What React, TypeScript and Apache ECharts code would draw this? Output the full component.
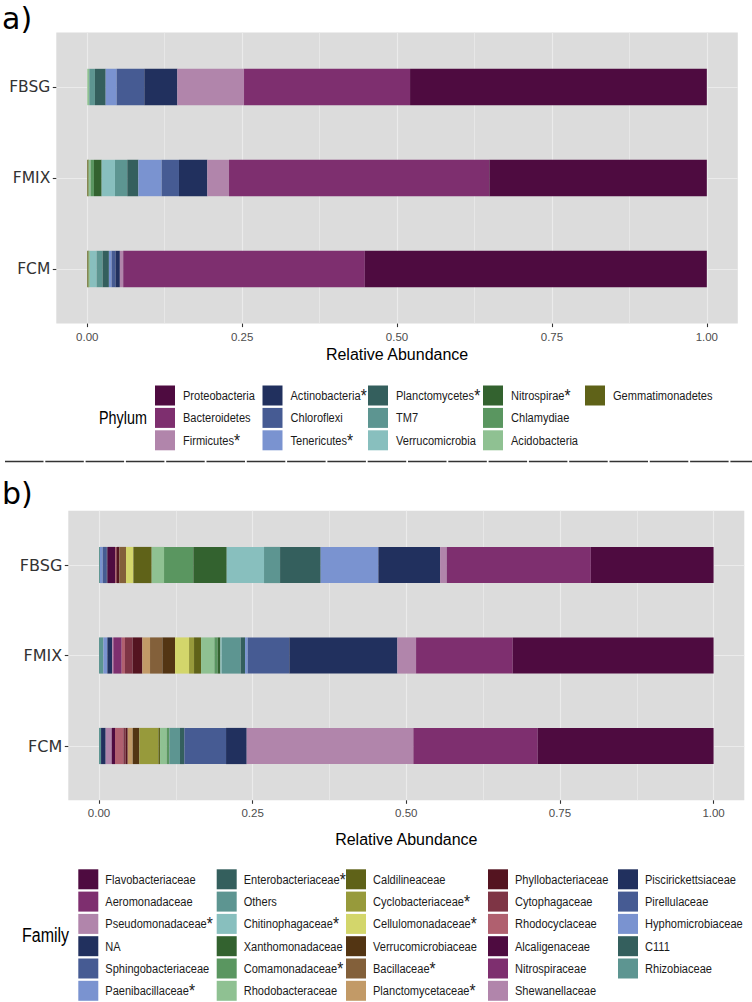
import React, { useEffect, useRef } from 'react';
import * as echarts from 'echarts';

// ---------------- data ----------------
const samples = ['FBSG', 'FMIX', 'FCM'];
const xTickValues = [0, 0.25, 0.5, 0.75, 1];
const xTickLabels = ['0.00', '0.25', '0.50', '0.75', '1.00'];
const xMinorValues = [0.125, 0.375, 0.625, 0.875];
const xAxisTitle = 'Relative Abundance';

const phyla = [
  'Proteobacteria', 'Bacteroidetes', 'Firmicutes', 'Actinobacteria', 'Chloroflexi',
  'Tenericutes', 'Planctomycetes', 'TM7', 'Verrucomicrobia', 'Nitrospirae',
  'Chlamydiae', 'Acidobacteria', 'Gemmatimonadetes',
];
const phylumColors = [
  '#4E0B40', '#7E2F6F', '#B185AB', '#21305E', '#465B93',
  '#7A93D0', '#345F5D', '#5D9591', '#88BFBE', '#33622F',
  '#5A9660', '#8FC192', '#5F6218',
];
const phylumStarred = ['Firmicutes', 'Actinobacteria', 'Tenericutes', 'Planctomycetes', 'Nitrospirae'];
// values in the order of `phyla`
const phylumFBSG = [0.479, 0.268, 0.1076, 0.0533, 0.0447, 0.0177, 0.0173, 0.0091, 0, 0, 0, 0.0033, 0];
const phylumFMIX = [0.351, 0.4202, 0.035, 0.0458, 0.028, 0.0376, 0.0178, 0.0199, 0.0215, 0.0124, 0.0054, 0.0032, 0.0022];
const phylumFCM = [0.552, 0.39, 0.0054, 0.007, 0.0064, 0.0043, 0.0102, 0.0097, 0.0107, 0, 0, 0.0021, 0.0022];

const families = [
  'Flavobacteriaceae', 'Aeromonadaceae', 'Pseudomonadaceae', 'NA', 'Sphingobacteriaceae', 'Paenibacillaceae',
  'Enterobacteriaceae', 'Others', 'Chitinophagaceae', 'Xanthomonadaceae', 'Comamonadaceae', 'Rhodobacteraceae',
  'Caldilineaceae', 'Cyclobacteriaceae', 'Cellulomonadaceae', 'Verrucomicrobiaceae', 'Bacillaceae', 'Planctomycetaceae',
  'Phyllobacteriaceae', 'Cytophagaceae', 'Rhodocyclaceae', 'Alcaligenaceae', 'Nitrospiraceae', 'Shewanellaceae',
  'Piscirickettsiaceae', 'Pirellulaceae', 'Hyphomicrobiaceae', 'C111', 'Rhizobiaceae',
];
const familyColors = [
  '#4E0B40', '#7E2F6F', '#B185AB', '#21305E', '#465B93', '#7A93D0',
  '#345F5D', '#5D9591', '#88BFBE', '#33622F', '#5A9660', '#8FC192',
  '#5F6218', '#979A3B', '#D3D66B', '#533513', '#83603A', '#C29A67',
  '#541420', '#7E3545', '#B0606F', '#4E0B40', '#7E2F6F', '#B185AB',
  '#21305E', '#465B93', '#7A93D0', '#345F5D', '#5D9591',
];
const familyStarred = [
  'Pseudomonadaceae', 'Paenibacillaceae', 'Enterobacteriaceae', 'Chitinophagaceae', 'Comamonadaceae',
  'Cyclobacteriaceae', 'Cellulomonadaceae', 'Bacillaceae', 'Planctomycetaceae',
];
// values in the order of `families`
const familyFBSG = [0.1998, 0.2344, 0.0108, 0.1004, 0, 0.0939, 0.0661, 0.0261, 0.0607, 0.0543, 0.0477, 0.0201, 0.0298, 0, 0.012, 0, 0.0108, 0, 0.0043, 0.0014, 0.0014, 0.0124, 0, 0, 0.0011, 0.0065, 0.0044, 0, 0.0016];
const familyFMIX = [0.3268, 0.1573, 0.0304, 0.1758, 0.0678, 0.0043, 0.0071, 0.0309, 0.0021, 0.0044, 0.0054, 0.0217, 0.0114, 0.0081, 0.0228, 0.0206, 0.0201, 0.0125, 0.0157, 0.0125, 0.0054, 0, 0.0136, 0.0021, 0.0076, 0, 0.0065, 0, 0.0071];
const familyFCM = [0.2861, 0.2024, 0.2712, 0.0336, 0.0678, 0, 0.0071, 0.0173, 0, 0, 0.0044, 0.0108, 0.0027, 0.031, 0, 0.0108, 0, 0.0081, 0.0033, 0.0038, 0.0136, 0.0054, 0, 0.0098, 0.0075, 0, 0, 0, 0.0033];

// ---------------- style / layout ----------------
const SANS = "'Liberation Sans', Arial, sans-serif";
const DEJAVU = "'DejaVu Sans', sans-serif";
const PANEL_BG = '#DCDCDC';
const GRID_LINE = '#EBEBEB';
const NARROW_SCALE = 0.82; // emulate a narrow sans face

// ggplot-like expansion: x from -0.05 to 1.05, y from 0.4 to 3.6
const X_LO = -0.05, X_HI = 1.05, X_STEP = 0.025;
const Y_LO = 0.4, Y_HI = 3.6, Y_STEP = 0.2;
const X_SLOTS = Math.round((X_HI - X_LO) / X_STEP) + 1;
const Y_SLOTS = Math.round((Y_HI - Y_LO) / Y_STEP) + 1;
const xSlot = (v: number) => Math.round((v - X_LO) / X_STEP);
const ySlot = (i: number) => Math.round((i + 1 - Y_LO) / Y_STEP);

const majorSlots = new Set(xTickValues.map(xSlot));
const minorSlots = new Set(xMinorValues.map(xSlot));
const sampleSlots = new Map(samples.map((s, i) => [ySlot(i), s]));
const xLabelBySlot = new Map(xTickValues.map((v, i) => [xSlot(v), xTickLabels[i]]));

type Panel = {
  left: number; top: number; width: number; height: number;
  yFont: number; titleGap: number; bars: number[][]; names: string[]; colors: string[]; stack: string;
};

const panels: Panel[] = [
  { left: 56.3, top: 32.4, width: 681.5, height: 291.2, yFont: 15.5, titleGap: 23,
    bars: [phylumFBSG, phylumFMIX, phylumFCM], names: phyla, colors: phylumColors, stack: 'a' },
  { left: 68.3, top: 510.7, width: 676, height: 289.6, yFont: 16, titleGap: 31,
    bars: [familyFBSG, familyFMIX, familyFCM], names: families, colors: familyColors, stack: 'b' },
];

type LegendSpec = {
  title: string; titleX: number; titleY: number; titleSize: number; names: string[]; colors: string[]; starred: string[];
  lefts: number[]; top: number; perCol: number; pitch: number; textDx: number;
};
const legends: LegendSpec[] = [
  { title: 'Phylum', titleX: 99, titleY: 418, titleSize: 17.5, names: phyla, colors: phylumColors, starred: phylumStarred,
    lefts: [155, 262.5, 368, 483, 585], top: 385.5, perCol: 3, pitch: 22.4, textDx: 28 },
  { title: 'Family', titleX: 22, titleY: 935, titleSize: 19.5, names: families, colors: familyColors, starred: familyStarred,
    lefts: [78.3, 216.7, 346, 488, 618], top: 869.3, perCol: 6, pitch: 22.3, textDx: 27 },
];

function legendGraphics(l: LegendSpec): any[] {
  const out: any[] = [
    { type: 'text', x: l.titleX, y: l.titleY, scaleX: NARROW_SCALE,
      style: { text: l.title, font: `${l.titleSize}px ${SANS}`, fill: '#000', verticalAlign: 'middle' } },
  ];
  l.names.forEach((name, k) => {
    const col = Math.floor(k / l.perCol), row = k % l.perCol;
    out.push({
      type: 'group', x: l.lefts[col], y: l.top + row * l.pitch,
      children: [
        { type: 'rect', shape: { x: 0, y: 0, width: 20, height: 20 }, style: { fill: l.colors[k] } },
        { type: 'text', x: l.textDx, y: 10, scaleX: NARROW_SCALE,
          style: {
            text: `{t|${name}}` + (l.starred.includes(name) ? '{s|*}' : ''),
            verticalAlign: 'middle', fill: '#1A1A1A',
            rich: {
              t: { fontSize: 13.5, fontFamily: SANS, fill: '#1A1A1A', lineHeight: 20 },
              s: { fontSize: 19, fontFamily: SANS, fill: '#1A1A1A', lineHeight: 20 },
            },
          } },
      ],
    });
  });
  return out;
}

function buildOption() {
  const grid: any[] = [];
  const xAxis: any[] = [];
  const yAxis: any[] = [];
  const series: any[] = [];

  panels.forEach((p) => {
    const xr = X_HI - X_LO, yr = Y_HI - Y_LO;
    const bgGrid = grid.length;
    grid.push({ left: p.left, top: p.top, width: p.width, height: p.height, show: true,
      backgroundColor: PANEL_BG, borderWidth: 0, containLabel: false, outerBoundsMode: 'none' });
    const barGrid = grid.length;
    grid.push({ left: p.left + (0 - X_LO) / xr * p.width, width: p.width / xr,
      top: p.top + (0.5 - Y_LO) / yr * p.height, height: p.height * 3 / yr,
      show: false, containLabel: false, outerBoundsMode: 'none' });
    const barWidth = p.height * 0.4 / yr;

    const xSlotNames = Array.from({ length: X_SLOTS }, (_, i) => String(i));
    const ySlotNames = Array.from({ length: Y_SLOTS }, (_, i) => String(i));

    xAxis.push({
      gridIndex: bgGrid, type: 'category', data: xSlotNames, boundaryGap: false,
      axisLine: { show: false },
      axisTick: { show: true, interval: (i: number) => majorSlots.has(i), length: 3.5,
        lineStyle: { color: '#333333', width: 1.1 } },
      axisLabel: { show: true, interval: (i: number) => majorSlots.has(i), margin: 7,
        formatter: (_v: string, i: number) => xLabelBySlot.get(i) ?? '',
        color: '#4D4D4D', fontSize: 11.5, fontFamily: SANS },
      splitLine: { show: true, interval: (i: number) => majorSlots.has(i),
        lineStyle: { color: GRID_LINE, width: 1.2 } },
      name: xAxisTitle, nameLocation: 'middle', nameGap: p.titleGap,
      nameTextStyle: { color: '#000000', fontSize: 16, fontFamily: SANS },
    });
    xAxis.push({
      gridIndex: bgGrid, type: 'category', data: xSlotNames, boundaryGap: false,
      axisLine: { show: false }, axisTick: { show: false }, axisLabel: { show: false },
      splitLine: { show: true, interval: (i: number) => minorSlots.has(i),
        lineStyle: { color: GRID_LINE, width: 0.7 } },
    });
    const barX = xAxis.length;
    xAxis.push({ gridIndex: barGrid, type: 'value', min: 0, max: 1, show: false });

    yAxis.push({
      gridIndex: bgGrid, type: 'category', data: ySlotNames, boundaryGap: false, inverse: true,
      axisLine: { show: false },
      axisTick: { show: true, interval: (i: number) => sampleSlots.has(i), length: 3.5,
        lineStyle: { color: '#333333', width: 1.1 } },
      axisLabel: { show: true, interval: (i: number) => sampleSlots.has(i), margin: 6,
        formatter: (_v: string, i: number) => sampleSlots.get(i) ?? '',
        color: '#333333', fontSize: p.yFont, fontFamily: DEJAVU },
      splitLine: { show: true, interval: (i: number) => sampleSlots.has(i),
        lineStyle: { color: GRID_LINE, width: 1.2 } },
    });
    const barY = yAxis.length;
    yAxis.push({ gridIndex: barGrid, type: 'category', data: samples, inverse: true, show: false });

    for (let k = p.names.length - 1; k >= 0; k--) {
      series.push({
        type: 'bar', name: p.names[k], stack: p.stack, xAxisIndex: barX, yAxisIndex: barY,
        barWidth, data: samples.map((_, si) => p.bars[si][k]),
        itemStyle: { color: p.colors[k] }, emphasis: { disabled: true },
      });
    }
  });

  const graphic: any[] = [
    { type: 'text', left: 2, top: 3, style: { text: 'a)', font: `30px ${DEJAVU}`, fill: '#000' } },
    { type: 'text', left: 2, top: 478, style: { text: 'b)', font: `30px ${DEJAVU}`, fill: '#000' } },
    { type: 'line', shape: { x1: 5, y1: 461.5, x2: 752, y2: 461.5 },
      style: { stroke: '#333333', lineWidth: 1.3, lineDash: [38.5, 1.8] } },
    ...legends.flatMap(legendGraphics),
  ];

  return { animation: false, backgroundColor: '#FFFFFF', grid, xAxis, yAxis, series, graphic };
}

export default function App() {
  const ref = useRef<HTMLDivElement>(null);
  useEffect(() => {
    if (!ref.current) return;
    const chart = echarts.init(ref.current, undefined, { renderer: 'svg' });
    chart.setOption(buildOption() as any);
    return () => chart.dispose();
  }, []);
  return <div ref={ref} style={{ position: 'fixed', left: 0, top: 0, width: 752, height: 1002 }} />;
}
